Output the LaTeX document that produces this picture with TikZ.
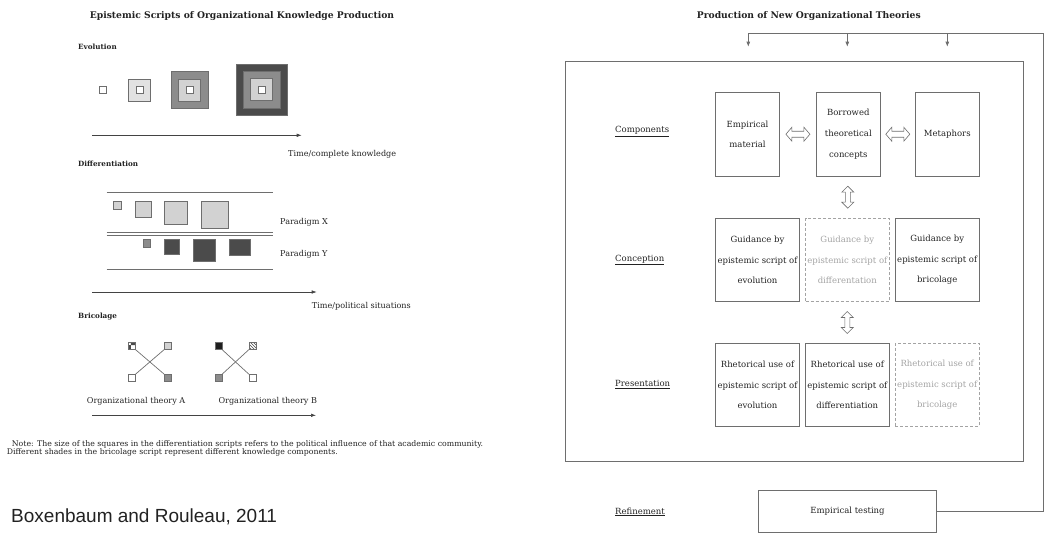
\documentclass[tikz,border=0pt]{standalone}
\usepackage{fontspec}
\setmainfont{DejaVu Serif}
\newfontfamily\citefont{Liberation Sans}
\usetikzlibrary{arrows.meta,patterns,calc}

\definecolor{ink}{HTML}{222222}
\definecolor{rule}{HTML}{6E6E6E}
\definecolor{ghost}{HTML}{A3A3A3}
\definecolor{shadeXL}{HTML}{E2E2E2}
\definecolor{shadeL}{HTML}{D2D2D2}
\definecolor{shadeM}{HTML}{8C8C8C}
\definecolor{shadeD}{HTML}{4B4B4B}
\definecolor{shadeK}{HTML}{1E1E1E}

\tikzset{
  hdbl/.pic={\draw[rule, line width=0.6, fill=white]
     (-12,0) -- (-6,-7) -- (-6,-3) -- (6,-3) -- (6,-7) -- (12,0)
     -- (6,7) -- (6,3) -- (-6,3) -- (-6,7) -- cycle;},
  vdbl/.pic={\draw[rule, line width=0.6, fill=white]
     (0,-11) -- (6,-5) -- (2.5,-5) -- (2.5,5) -- (6,5) -- (0,11)
     -- (-6,5) -- (-2.5,5) -- (-2.5,-5) -- (-6,-5) -- cycle;}
}

\begin{document}
\begin{tikzpicture}[x=1pt,y=-1pt,
  every node/.style={inner sep=0pt, text=ink},
  lbl/.style={anchor=west, font=\fontsize{8.1}{10}\selectfont},
  rowlbl/.style={anchor=west, font=\fontsize{8.5}{10}\selectfont},
  head/.style={anchor=west, font=\bfseries\fontsize{7.2}{9}\selectfont},
  title/.style={font=\bfseries\fontsize{9.2}{11}\selectfont},
  note/.style={anchor=west, font=\fontsize{7.8}{9}\selectfont},
  sq/.style={rectangle, draw=rule, line width=0.6, minimum size=#1},
  topsq/.style={rectangle, draw=rule, line width=0.6, minimum size=#1, anchor=north west},
  axis/.style={draw=ink!85, line width=0.6, -{Latex[length=5pt,width=3.5pt]}},
  plain/.style={draw=rule, line width=0.7},
  box/.style={rectangle, draw=rule, line width=0.7, align=center,
     minimum width=83.6, minimum height=83.4, font=\fontsize{8.5}{20.6}\selectfont},
  cbox/.style={box, minimum width=63.8, minimum height=83.7},
  ghostbox/.style={box, draw=ghost, text=ghost, dash pattern=on 3pt off 2pt},
  fb/.style={draw=rule, line width=0.7, -{Latex[length=5pt,width=4pt]}}
]
\useasboundingbox (0,0) rectangle (1046,533);

% ---------------- Epistemic scripts ----------------
\node[title] (tL) at (242,16) {Epistemic Scripts of Organizational Knowledge Production};

% Evolution
\node[head] (hEvo) at (78,47) {Evolution};
\node[sq=7, fill=white] (e1) at (103,90) {};
\node[sq=22, fill=shadeXL] (e2) at (139.5,90) {};
\node[sq=7, fill=white] (e2c) at (e2) {};
\node[sq=37, fill=shadeM] (e3) at (189.7,90) {};
\node[sq=22, fill=shadeL] (e3b) at (e3) {};
\node[sq=7, fill=white] (e3c) at (e3) {};
\node[sq=51, fill=shadeD] (e4) at (261.7,89.7) {};
\node[sq=37, fill=shadeM] (e4a) at (e4) {};
\node[sq=22, fill=shadeL] (e4b) at (e4) {};
\node[sq=7, fill=white] (e4c) at (e4) {};
\coordinate (ev0) at (92,135.3);
\coordinate (ev1) at (301.7,135.3);
\draw[axis] (ev0) -- (ev1);
\node[lbl] (tEvo) at (288,154) {Time/complete knowledge};

% Differentiation
\node[head] (hDif) at (78,164.3) {Differentiation};
\coordinate (dA0) at (106.7,192.3); \coordinate (dA1) at (272.7,192.3);
\coordinate (dB0) at (106.7,232.3); \coordinate (dB1) at (272.7,232.3);
\coordinate (dC0) at (106.7,235.1); \coordinate (dC1) at (272.7,235.1);
\coordinate (dD0) at (106.7,269.3); \coordinate (dD1) at (272.7,269.3);
\draw[plain] (dA0) -- (dA1);
\draw[plain] (dB0) -- (dB1);
\draw[plain] (dC0) -- (dC1);
\draw[plain] (dD0) -- (dD1);
\node[topsq=8, fill=shadeL] (x1) at (113.3,201) {};
\node[topsq=15.7, fill=shadeL] (x2) at (135,201) {};
\node[topsq=22.7, fill=shadeL] (x3) at (164,201) {};
\node[topsq=27, fill=shadeL] (x4) at (200.7,201) {};
\node[topsq=7.7, fill=shadeM] (y1) at (142.7,239) {};
\node[topsq=15.3, fill=shadeD] (y2) at (164,239) {};
\node[topsq=21.7, fill=shadeD] (y3) at (193.3,239) {};
\node[rectangle, draw=rule, line width=0.6, anchor=north west, fill=shadeD,
      minimum width=21, minimum height=16] (y4) at (229.3,239) {};
\node[lbl] (pX) at (280,222.7) {Paradigm X};
\node[lbl] (pY) at (280,254) {Paradigm Y};
\coordinate (df0) at (92.3,292);
\coordinate (df1) at (316.7,292);
\draw[axis] (df0) -- (df1);
\node[lbl] (tDif) at (311.7,306.7) {Time/political situations};

% Bricolage
\node[head] (hBri) at (78,316.7) {Bricolage};
\node[sq=7, fill=white, pattern=checkerboard, pattern color=shadeD] (a1) at (131.7,345.8) {};
\node[sq=7, fill=shadeL] (a2) at (168,345.8) {};
\node[sq=7, fill=white] (a3) at (131.7,378) {};
\node[sq=7, fill=shadeM] (a4) at (168,378) {};
\draw[plain] (a1.south east) -- (a4.north west);
\draw[plain] (a2.south west) -- (a3.north east);
\node[sq=7, fill=shadeK] (b1) at (218.3,345.8) {};
\node[sq=7, pattern=north west lines, pattern color=shadeD] (b2) at (252.7,345.8) {};
\node[sq=7, fill=shadeM] (b3) at (218.3,378) {};
\node[sq=7, fill=white] (b4) at (252.7,378) {};
\draw[plain] (b1.south east) -- (b4.north west);
\draw[plain] (b2.south west) -- (b3.north east);
\node[lbl] (oA) at (86.7,401.7) {Organizational theory A};
\node[lbl] (oB) at (218.3,401.7) {Organizational theory B};
\coordinate (br0) at (92.3,415.3);
\coordinate (br1) at (316,415.3);
\draw[axis] (br0) -- (br1);

\node[note] (n1) at (11.7,444) {Note: The size of the squares in the differentiation scripts refers to the political influence of that academic community.};
\node[note] (n2) at (6.7,452.8) {Different shades in the bricolage script represent different knowledge components.};

\node[anchor=west, font=\citefont\fontsize{19}{21}\selectfont] (cite) at (11,517) {Boxenbaum and Rouleau, 2011};

% ---------------- Production of new theories ----------------
\node[title] (tR) at (808.8,15.7) {Production of New Organizational Theories};

\node[rectangle, draw=rule, line width=0.8, minimum width=458.3, minimum height=399.3]
  (frame) at (794.15,261.35) {};

\node[rowlbl] (lComp) at (615,131.7) {\underline{Components}};
\node[rowlbl] (lConc) at (615,260) {\underline{Conception}};
\node[rowlbl] (lPres) at (615,384.3) {\underline{Presentation}};
\node[rowlbl] (lRef) at (615,512) {\underline{Refinement}};

\node[cbox] (emp) at (747.5,134.2) {Empirical\\material};
\node[cbox] (bor) at (848.3,134.2) {Borrowed\\theoretical\\concepts};
\node[cbox] (met) at (947.3,134.2) {Metaphors};

\node[box] (gEvo) at (757.5,260) {Guidance by\\epistemic script of\\evolution};
\node[ghostbox] (gDif) at (847.3,260) {Guidance by\\epistemic script of\\differentation};
\node[box] (gBri) at (937.2,260) {Guidance by\\epistemic script of\\bricolage};

\node[box] (rEvo) at (757.5,385) {Rhetorical use of\\epistemic script of\\evolution};
\node[box] (rDif) at (847.3,385) {Rhetorical use of\\epistemic script of\\differentiation};
\node[ghostbox] (rBri) at (937.2,385) {Rhetorical use of\\epistemic script of\\bricolage};

\pic at ($(emp.east)!0.5!(bor.west)$) {hdbl};
\pic at ($(bor.east)!0.5!(met.west)$) {hdbl};
\pic at ($(bor.south)!0.5!(gDif.north)$) {vdbl};
\pic at ($(gDif.south)!0.5!(rDif.north)$) {vdbl};

\node[rectangle, draw=rule, line width=0.7, minimum width=178.4, minimum height=42,
      font=\fontsize{8.5}{10}\selectfont] (test) at (847.5,511) {Empirical testing};

% feedback from testing back into theory production
\coordinate (fbTR) at (1043.3,33.3);
\coordinate (fbA) at (748.3,46.7);
\coordinate (fbB) at (847.3,46.7);
\coordinate (fbC) at (947.3,46.7);
\draw[fb] (test.east) -| (fbTR) -| (fbA);
\draw[fb] (fbB |- fbTR) -- (fbB);
\draw[fb] (fbC |- fbTR) -- (fbC);
\end{tikzpicture}
\end{document}
